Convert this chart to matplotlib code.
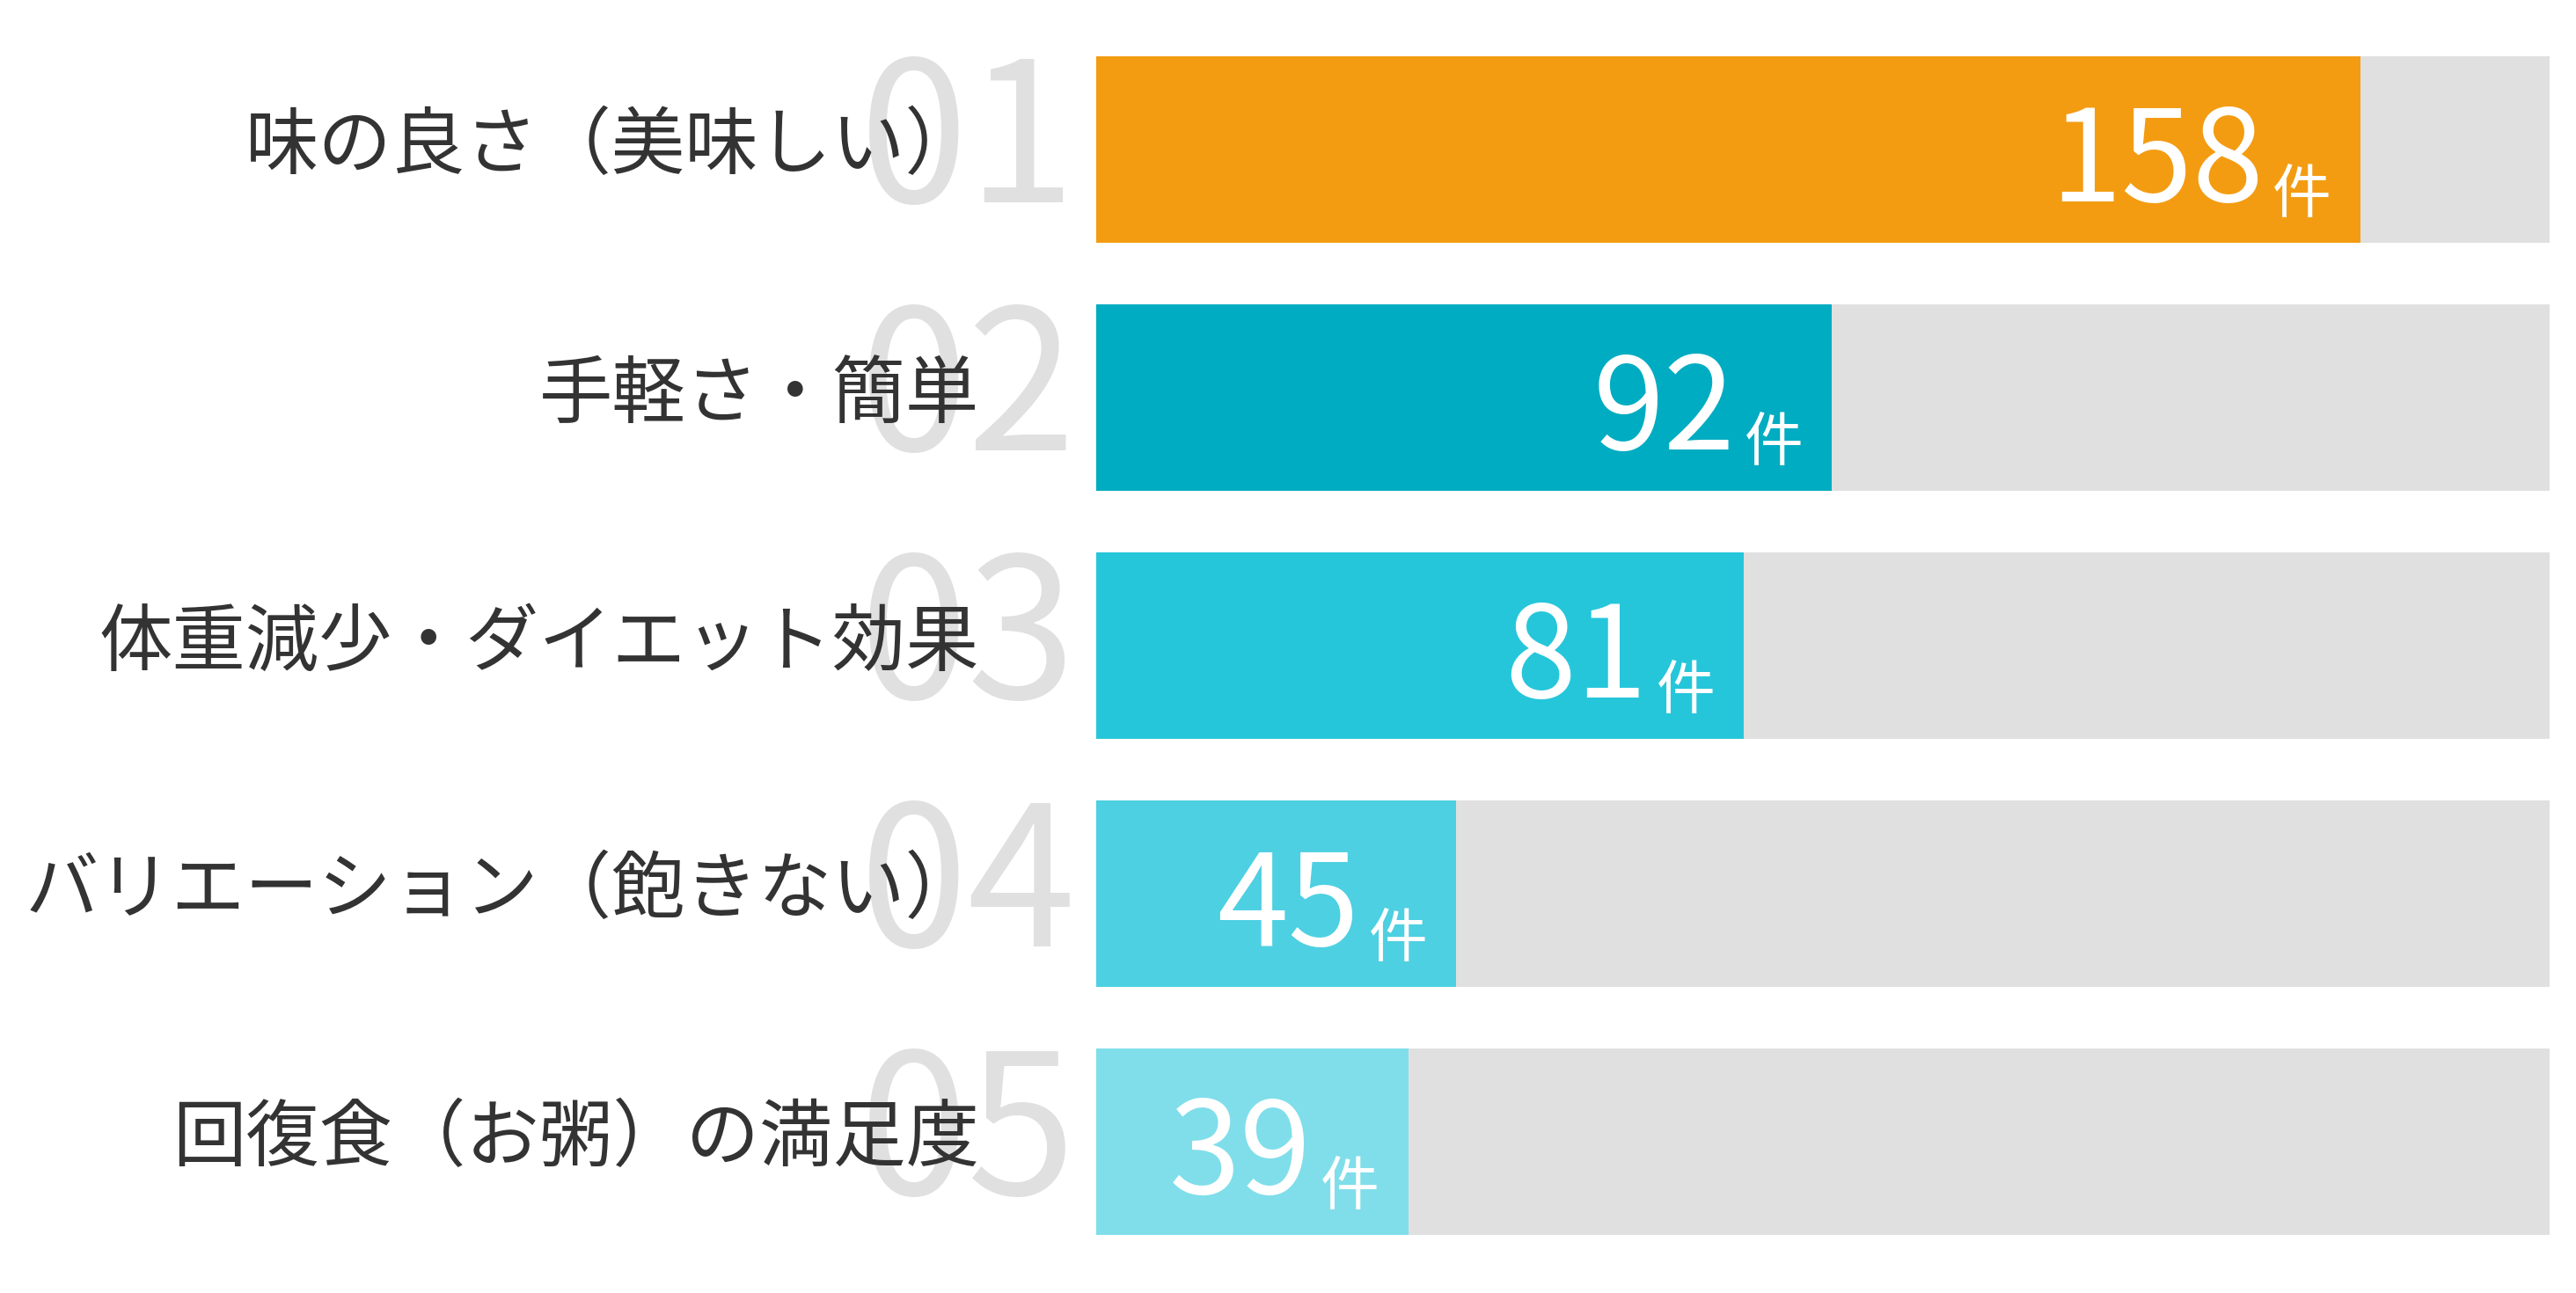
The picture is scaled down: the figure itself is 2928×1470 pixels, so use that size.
import matplotlib
matplotlib.use("Agg")
import matplotlib.pyplot as plt
import matplotlib.transforms as mtransforms

plt.rcParams['font.family'] = ['Noto Sans CJK JP', 'DejaVu Sans']

# data
categories = ["味の良さ（美味しい）", "手軽さ・簡単", "体重減少・ダイエット効果",
              "バリエーション（飽きない）", "回復食（お粥）の満足度"]
ranks = ["01", "02", "03", "04", "05"]
counts = [158, 92, 81, 45, 39]
bar_colors = ["#F39C12", "#00ACC1", "#26C6DA", "#4DD0E1", "#80DEEA"]
unit = "件"

xmax = max(counts) * 1.15

fig = plt.figure(figsize=(29.28, 14.70), dpi=100)
W, H = 2928, 1470
ax = fig.add_axes([1246 / W, 31 / H, 1652 / W, 1410 / H])

ypos = list(range(len(counts)))
ax.barh(ypos, [xmax] * len(counts), height=0.75, color="#E0E0E0", zorder=1)
ax.barh(ypos, counts, height=0.75, color=bar_colors, zorder=2)
ax.set_xlim(0, xmax)
ax.set_ylim(len(counts) - 0.5, -0.5)
ax.axis("off")

trans = mtransforms.blended_transform_factory(ax.transAxes, ax.transData)
for i, (cat, rk, v) in enumerate(zip(categories, ranks, counts)):
    # big grey rank number behind label
    ax.text(-0.163, i + 0.213, rk, transform=trans, ha="left", va="baseline",
            fontsize=160, color="#E0E0E0", zorder=0)
    # category label
    ax.text(-0.0805, i - 0.01, cat, transform=trans, ha="right", va="center",
            fontsize=60, color="#333333", zorder=3)
    # value label
    ax.annotate(str(v), xy=(v, i), xytext=(-110, -59), textcoords="offset pixels",
                ha="right", va="baseline", fontsize=105, color="white",
                zorder=4)
    ax.annotate(unit, xy=(v, i), xytext=(-33, -72), textcoords="offset pixels",
                ha="right", va="baseline", fontsize=48, color="white", zorder=4)

fig.savefig("out.png", dpi=100, facecolor="white")
